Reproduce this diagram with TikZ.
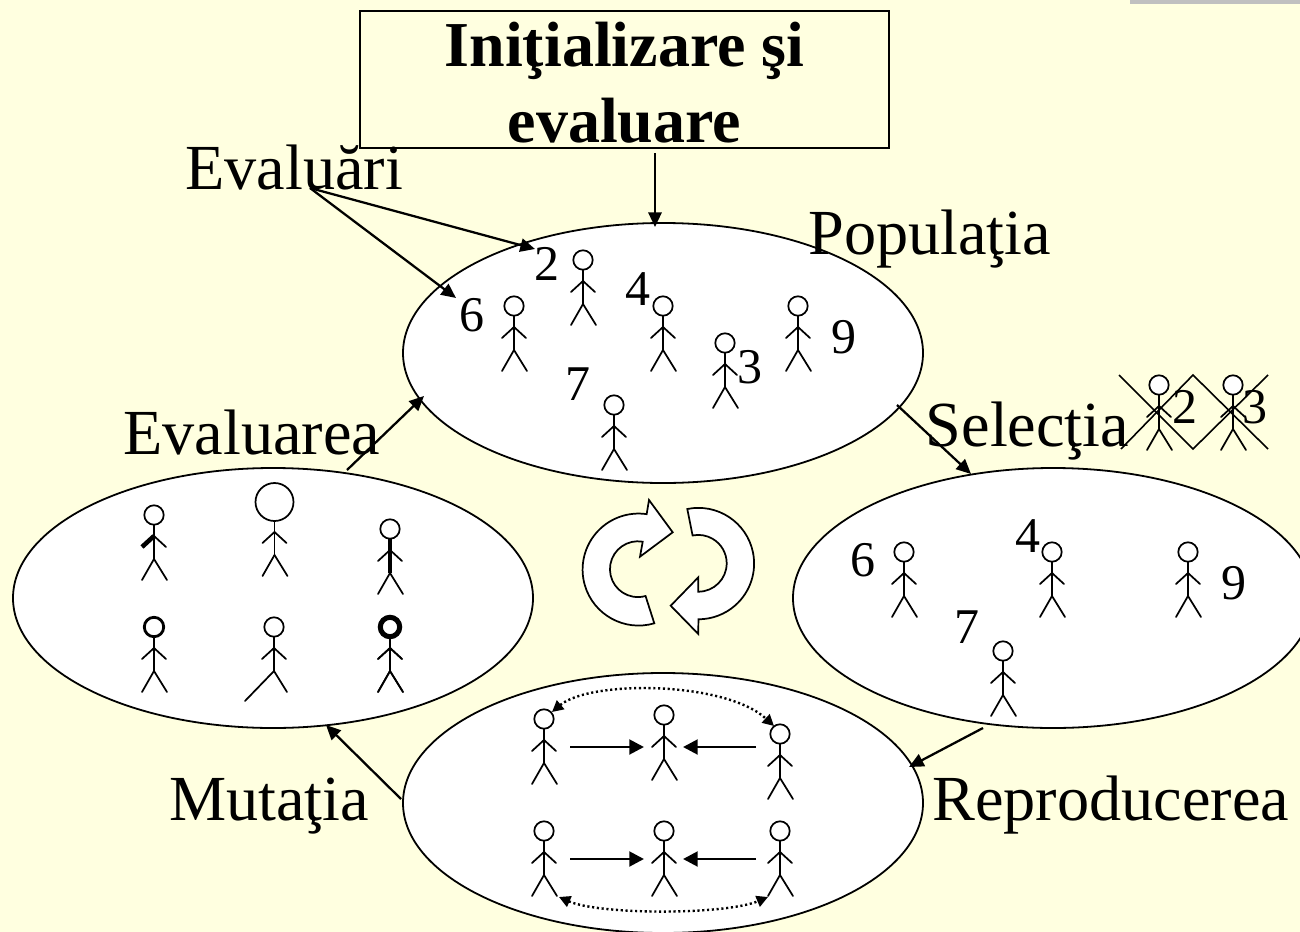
\documentclass[tikz,border=0pt]{standalone}
\usepackage{fontspec}
\setmainfont{Liberation Serif}
\usetikzlibrary{shapes.geometric,arrows.meta}
\definecolor{paper}{RGB}{255,255,224}
\definecolor{barg}{RGB}{192,192,192}
\tikzset{
  x=0.75pt,y=0.75pt,
  head radius/.store in=\headR, head radius=9.7,
  head up/.store in=\headUp, head up=0,
  leg x/.store in=\legX, leg x=-12,
  leg y/.store in=\legY, leg y=-65,
  figline/.style={line width=1.3pt,line cap=round,black},
  fighead/.style={figline,fill=white},
  figbody/.style={figline},
  figarm/.style={figline},
  person/.pic={
    \draw[figbody] (0,-\headR+\headUp) -- (0,-44);
    \draw[figarm] (0,-21) -- (-12,-32);
    \draw[figline] (0,-21) -- (12,-32);
    \draw[figline] (0,-44) -- (\legX,\legY);
    \draw[figline] (0,-44) -- (13,-65);
    \draw[fighead] (0,\headUp) circle (\headR);
  },
  cell/.style={ellipse,draw=black,line width=1.35pt,fill=white,minimum width=390pt,minimum height=195pt,inner sep=0pt},
  bigtext/.style={font=\fontsize{48.2}{57}\selectfont,inner sep=0pt,anchor=base west},
  num/.style={font=\fontsize{37.5}{45}\selectfont,inner sep=0pt,anchor=base west},
  link/.style={line width=1.7pt,-{Triangle[length=11pt,width=10pt]}},
  mate/.style={line width=2.2pt,-{Triangle[length=11pt,width=11pt]}},
  swap/.style={line width=1.8pt,dash pattern=on 1.6pt off 2pt},
  cross/.style={line width=1.2pt},
  turn/.style={draw=black,line width=1.3pt,fill=white,line join=miter},
}
\begin{document}
\begin{tikzpicture}
\useasboundingbox (0,0) rectangle (1300,-932);
\clip (0,0) rectangle (1300,-932);
\fill[paper] (0,0) rectangle (1300,-932);
\fill[barg] (1130,0) rectangle (1300,-4);

% ellipses
\node[cell] (pop) at (663,-353) {};
\node[cell] (ev)  at (273,-598) {};
\node[cell] (sel) at (1053,-598) {};
\node[cell] (rep) at (663,-803) {};

% title box
\node[draw=black,line width=1.35pt,minimum width=396.75pt,minimum height=102.75pt,inner sep=0pt,
      align=center,font=\fontsize{48}{57}\selectfont\bfseries] (box) at (624.5,-79.5)
      {\rule{0pt}{38pt}Iniţializare şi\\evaluare};

% captions
\node[bigtext] (tEvl) at (185,-189) {Evaluări};
\node[bigtext] (tPop) at (808,-254) {Populaţia};
\node[bigtext] (tEva) at (123,-454) {Evaluarea};
\node[bigtext] (tSel) at (925.5,-446) {Selecţia};
\node[bigtext] (tMut) at (169,-820) {Mutaţia};
\node[bigtext] (tRep) at (932,-820) {Reproducerea};

% numbers
\node[num] (n2) at (534,-280) {2};
\node[num] (n6) at (459.5,-331) {6};
\node[num] (n4) at (625,-305) {4};
\node[num] (n3) at (737,-383) {3};
\node[num] (n9) at (831,-353) {9};
\node[num] (n7) at (565,-400) {7};
\node[num] (s2) at (1172,-423) {2};
\node[num] (s3) at (1242,-423) {3};
\node[num] (r6) at (850,-576) {6};
\node[num] (r4) at (1015,-552) {4};
\node[num] (r9) at (1221,-599) {9};
\node[num] (r7) at (954,-643) {7};

% population
\foreach \px/\py in {583/260,514/306,663/306,725/343,798/306,614/405,
                     904/552,1052/552,1188/552,1003/651,
                     1159/385,1233/385,
                     544/719,664/715,780/734,544/831,664/831,780/831,
                     390/627}
  \pic at (\px,-\py) {person};

% mutated figures
\pic[figarm/.append style={line width=3.4pt,line cap=butt}] at (154,-515) {person};
\pic[head radius=19,head up=9] at (274.5,-511) {person};
\pic[figbody/.append style={line width=3.2pt,line cap=butt}] at (390,-529) {person};
\pic[fighead/.append style={line width=2.1pt},figbody/.append style={line width=1.9pt}] at (154,-627) {person};
\pic[leg x=-29,leg y=-74] at (274,-627) {person};
\pic[fighead/.append style={line width=3.8pt,fill=white}] at (390,-627) {person};

% crossed-out figures
\coordinate (xa1) at (1119,-375); \coordinate (xa2) at (1193,-449);
\coordinate (xb1) at (1121,-449); \coordinate (xb2) at (1193,-375);
\coordinate (xc1) at (1193,-375); \coordinate (xc2) at (1268,-449);
\coordinate (xd1) at (1193,-449); \coordinate (xd2) at (1268,-375);
\draw[cross] (xa1) -- (xa2) -- (xd2);
\draw[cross] (xb1) -- (xb2) -- (xc2);

% connectors
\coordinate (a0) at (655,-153);  \coordinate (a1) at (655,-227);
\coordinate (b0) at (310,-188);  \coordinate (b1) at (535,-249); \coordinate (b2) at (456,-298);
\coordinate (c0) at (347,-470);  \coordinate (c1) at (424,-396);
\coordinate (d0) at (897,-405);  \coordinate (d1) at (971,-474);
\coordinate (e0) at (983,-728);  \coordinate (e1) at (909,-767);
\coordinate (f0) at (401,-799);  \coordinate (f1) at (326,-725);
\draw[link] (a0) -- (a1);
\draw[link] (b0) -- (b1);
\draw[link] (b0) -- (b2);
\draw[link] (c0) -- (c1);
\draw[link] (d0) -- (d1);
\draw[link] (e0) -- (e1);
\draw[link] (f0) -- (f1);

% crossover arrows
\coordinate (m1) at (570,-747); \coordinate (m2) at (644,-747);
\coordinate (m3) at (756,-747); \coordinate (m4) at (683,-747);
\coordinate (m5) at (570,-859); \coordinate (m6) at (644,-859);
\coordinate (m7) at (756,-859); \coordinate (m8) at (683,-859);
\draw[mate] (m1) -- (m2);
\draw[mate] (m3) -- (m4);
\draw[mate] (m5) -- (m6);
\draw[mate] (m7) -- (m8);
\coordinate (q1) at (552,-712); \coordinate (q2) at (774,-726);
\coordinate (q3) at (559,-897); \coordinate (q4) at (768,-897);
\draw[swap,{Triangle[length=8.5pt,width=8.5pt]}-{Triangle[length=8.5pt,width=8.5pt]}]
  (q1) .. controls (590,-680) and (725,-681) .. (q2);
\draw[swap,{Triangle[length=8.5pt,width=8.5pt]}-{Triangle[length=8.5pt,width=8.5pt]}]
  (q3) .. controls (600,-915) and (725,-915) .. (q4);

% cycle arrows
\draw[turn] (654.3,-623.3) arc[start angle=-73.7,end angle=-278.3,radius=56]
  -- (649,-500) -- (672.7,-532.3) -- (640,-556.7) -- (642.7,-541.7)
  arc[start angle=80,end angle=286,radius=27.9] -- cycle;
\draw[turn] (687.3,-509) arc[start angle=101.5,end angle=-90,radius=55.7]
  -- (698.3,-634) -- (670.7,-605.7) -- (698.3,-577.3) -- (698.3,-591.7)
  arc[start angle=-90,end angle=101.6,radius=28.4] -- cycle;
\end{tikzpicture}
\end{document}
